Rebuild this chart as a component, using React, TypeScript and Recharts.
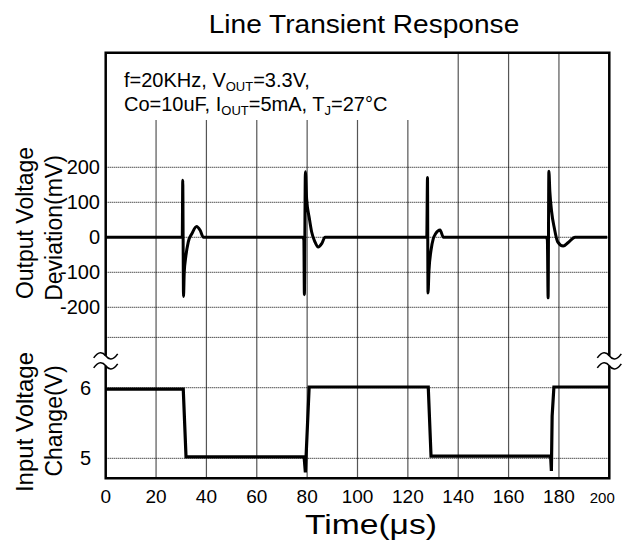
import { CartesianGrid, Line, LineChart, ReferenceArea, ReferenceDot, ReferenceLine, XAxis, YAxis } from 'recharts'

// time axis (μs)
const timeTicks = [0, 20, 40, 60, 80, 100, 120, 140, 160, 180, 200]

// output voltage deviation (mV)
const outTime = [
  0, 30.4, 30.6, 30.9, 31.2, 31.8, 32.8, 34.2, 36.1, 37.5, 38.8,
  78.3, 78.7, 78.9, 79.3, 79.8, 80.9, 81.8, 83.1, 84.4, 85.8, 87.1,
  127.5, 127.8, 128.0, 128.4, 129.2, 130.1, 131.0, 132.8, 134.1,
  175.0, 175.4, 175.7, 176.0, 176.4, 177.1, 178.2, 179.5, 181.7, 183.7, 186.4, 199.2,
]
const outMv = [
  0, 0, 163, -169, -100, -56, -13, 10, 31, 20, 0,
  0, -8, -164, 187, 110, 53, 15, -13, -28, -18, 0,
  0, 171, -159, -94, -37, -4, 10, 21, 0,
  0, -8, -173, 189, 130, 73, 25, -13, -25, -15, 0, 0,
]

// input voltage (V)
const inTime = [0, 30.8, 31.9, 78.8, 79.3, 80.8, 128.1, 129.2, 176.7, 177.0, 177.3, 178.0, 200]
const inVolt = [5.98, 5.98, 5.02, 5.02, 4.8, 6.01, 6.01, 5.03, 5.03, 4.82, 5.6, 6.01, 6.01]

const mvTicks = [200, 100, 0, -100, -200]
const mvGrid = [200, 100, 0, -100, -200, -286]
const voltTicks = [6, 5]

const MV_DOMAIN: [number, number] = [-688.6, 527.4]
const V_DOMAIN: [number, number] = [4.717, 10.745]

const outputData = outTime.map((t, i) => ({ t, mv: outMv[i] }))
const inputData = inTime.map((t, i) => ({ t, v: inVolt[i] }))

const FONT = '"Liberation Sans", Arial, sans-serif'

const timeTick = ({ x, payload }: any) => {
  const last = payload.value === 200
  return (
    <text x={last ? x - 7 : x} y={503} textAnchor="middle" fontFamily={FONT} fontSize={last ? 15 : 19} fill="#000">
      {payload.value}
    </text>
  )
}

const mvTick = ({ y, payload }: any) => (
  <text x={100} y={y} dy={7} textAnchor="end" fontFamily={FONT} fontSize={20} fill="#000">
    {payload.value}
  </text>
)

const voltTick = ({ y, payload }: any) => (
  <text x={91} y={y} dy={7} textAnchor="end" fontFamily={FONT} fontSize={20} fill="#000">
    {payload.value}
  </text>
)

function BreakMark({ cx, cy }: any) {
  const wave = (y: number) =>
    `M ${cx - 12} ${y + 2} C ${cx - 7} ${y - 5} ${cx - 3} ${y - 4} ${cx} ${y} S ${cx + 7} ${y + 5} ${cx + 12} ${y - 2}`
  return (
    <g>
      <rect x={cx - 4} y={cy - 5} width={8} height={10} fill="#fff" />
      <path d={wave(cy - 5)} fill="none" stroke="#000" strokeWidth={1.6} />
      <path d={wave(cy + 5)} fill="none" stroke="#000" strokeWidth={1.6} />
    </g>
  )
}

export default function App() {
  return (
    <div style={{ position: 'absolute', left: 0, top: 0, width: 627, height: 543, background: '#fff' }}>
      <LineChart
        width={627}
        height={543}
        margin={{ top: 52.7, right: 17.7, bottom: 44.7, left: 85.7 }}
      >
        <CartesianGrid horizontal={false} stroke="#555" strokeWidth={1.2} />
        <XAxis
          type="number"
          dataKey="t"
          domain={[0, 200]}
          ticks={timeTicks}
          height={20}
          axisLine={false}
          tickLine={false}
          tick={timeTick}
          interval={0}
          allowDataOverflow
        />
        <YAxis
          yAxisId="mv"
          type="number"
          domain={MV_DOMAIN}
          ticks={mvTicks}
          width={10}
          axisLine={false}
          tickLine={false}
          tick={mvTick}
          interval={0}
          allowDataOverflow
        />
        <YAxis
          yAxisId="v"
          type="number"
          domain={V_DOMAIN}
          ticks={voltTicks}
          width={10}
          axisLine={false}
          tickLine={false}
          tick={voltTick}
          interval={0}
          allowDataOverflow
        />
        {/* white box behind the conditions note */}
        <ReferenceArea yAxisId="mv" x1={0} x2={120.5} y1={335} y2={MV_DOMAIN[1]} fill="#fff" fillOpacity={1} stroke="none" />
        {mvGrid.map((v) => (
          <ReferenceLine key={'mv' + v} yAxisId="mv" y={v} stroke="#000" strokeWidth={1} strokeDasharray="1 1" />
        ))}
        {voltTicks.map((v) => (
          <ReferenceLine key={'v' + v} yAxisId="v" y={v} stroke="#000" strokeWidth={1} strokeDasharray="1 1" />
        ))}
        <Line
          yAxisId="v"
          data={inputData}
          dataKey="v"
          type="linear"
          stroke="#000"
          strokeWidth={3.2}
          dot={false}
          isAnimationActive={false}
        />
        <Line
          yAxisId="mv"
          data={outputData}
          dataKey="mv"
          type="monotone"
          stroke="#000"
          strokeWidth={3}
          dot={false}
          isAnimationActive={false}
        />
        {/* plot frame */}
        <ReferenceArea
          yAxisId="mv"
          x1={0}
          x2={200}
          y1={MV_DOMAIN[0]}
          y2={MV_DOMAIN[1]}
          fill="none"
          stroke="#000"
          strokeWidth={2.5}
          ifOverflow="visible"
        />
        <ReferenceDot yAxisId="mv" x={0} y={-353} r={0} ifOverflow="visible" shape={<BreakMark />} />
        <ReferenceDot yAxisId="mv" x={200} y={-353} r={0} ifOverflow="visible" shape={<BreakMark />} />
      </LineChart>
      <svg
        width={627}
        height={543}
        style={{ position: 'absolute', left: 0, top: 0, pointerEvents: 'none' }}
        fontFamily={FONT}
      >
        <text transform="translate(364,33) scale(1.08,1)" textAnchor="middle" fontSize={26}>Line Transient Response</text>
        <text x={124} y={87} fontSize={20}>
          <tspan>f=20KHz, V</tspan>
          <tspan fontSize={13} dy={4}>OUT</tspan>
          <tspan dy={-4}>=3.3V,</tspan>
        </text>
        <text x={124} y={111} fontSize={20}>
          <tspan>Co=10uF, I</tspan>
          <tspan fontSize={13} dy={4}>OUT</tspan>
          <tspan dy={-4}>=5mA, T</tspan>
          <tspan fontSize={13} dy={4}>J</tspan>
          <tspan dy={-4}>=27°C</tspan>
        </text>
        <text transform="translate(33,223) rotate(-90)" textAnchor="middle" fontSize={23}>Output Voltage</text>
        <text transform="translate(62,228) rotate(-90)" textAnchor="middle" fontSize={23}>Deviation(mV)</text>
        <text transform="translate(33,422) rotate(-90)" textAnchor="middle" fontSize={24}>Input Voltage</text>
        <text transform="translate(62,421) rotate(-90)" textAnchor="middle" fontSize={23}>Change(V)</text>
        <text transform="translate(371,534) scale(1.2,1)" textAnchor="middle" fontSize={28}>Time(μs)</text>
      </svg>
    </div>
  )
}
